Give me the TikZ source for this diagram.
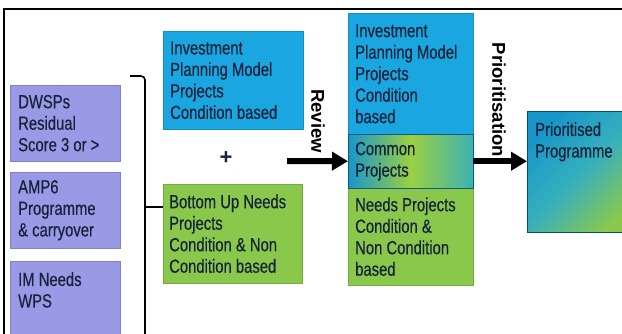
\documentclass[tikz,border=0pt]{standalone}
\usepackage{fontspec}
\setmainfont{Liberation Sans}[FakeStretch=0.78,FakeBold=0.4]
\newfontfamily\lblfont{Liberation Sans}
\usetikzlibrary{arrows.meta}
\definecolor{purp}{RGB}{153,153,230}
\definecolor{blu}{RGB}{26,167,225}
\definecolor{grn}{RGB}{138,200,76}
\definecolor{ink}{RGB}{22,34,58}
\begin{document}
\begin{tikzpicture}[x=1pt,y=-1pt,
            box/.style={fill=#1, draw=#1!85!black, anchor=north west, inner sep=0pt},
            txt/.style={align=left, inner sep=0pt, text=ink, font=\fontsize{19}{21.5}\selectfont},
            lbl/.style={rotate=-90, inner sep=0pt, font=\lblfont\bfseries\fontsize{18.5}{20}\selectfont},
            fat/.style={line width=6pt, -{Triangle[length=16pt,width=18pt]}}]
            \useasboundingbox (0,0) rectangle (622,334);
            \clip (0,0) rectangle (622,334);
            \fill[white] (0,0) rectangle (622,334);
            \draw[line width=2.5pt] (4,340)--(4,9)--(630,9);
            % left column
            \node[box=purp, minimum width=110pt, minimum height=76pt] (dwsp) at (10,85) {};
            \node[box=purp, minimum width=110pt, minimum height=76pt] (amp) at (10,172) {};
            \node[box=purp, minimum width=110pt, minimum height=90pt] (imn) at (10,261) {};
            \node[txt, anchor=west] (dwspt) at ([xshift=8pt]dwsp.west) {DWSPs\\Residual\\Score 3 or >};
            \node[txt, anchor=west] (ampt) at ([xshift=8pt]amp.west) {AMP6\\Programme\\\& carryover};
            \node[txt, anchor=north west] (imnt) at ([shift={(8pt,-11pt)}]imn.north west) {IM Needs\\WPS};
            % bracket
            \coordinate (brtop) at (130,76);
            \coordinate (brmid) at (145,207);
            \coordinate (brbot) at (145,340);
            \draw[line width=1.6pt, rounded corners=4pt] (brtop)--(brtop -| brbot)--(brbot);
            % second column
            \node[box=blu, minimum width=140pt, minimum height=98pt] (ipm) at (163,31) {};
            \node[box=grn, minimum width=139pt, minimum height=99pt] (bun) at (163,184) {};
            \node[txt, anchor=west] (ipmt) at ([xshift=7pt]ipm.west) {Investment\\Planning Model\\Projects\\Condition based};
            \node[txt, anchor=west] (bunt) at ([xshift=6pt]bun.west) {Bottom Up Needs\\Projects\\Condition \& Non\\Condition based};
            \node[text=ink, inner sep=0pt, font=\lblfont\bfseries\fontsize{22}{22}\selectfont] (plus) at (226,158) {+};
            \draw[line width=1.6pt] (brmid)--(brmid -| bun.west);
            % merged column
            \node[box=blu, minimum width=125pt, minimum height=121pt] (ipm2) at (348,13) {};
            \node[box=grn, minimum width=125pt, minimum height=97pt] (needs) at (348,188) {};
            \node[anchor=north west, inner sep=0pt, draw=blu!55!black, left color=blu!90!black, right color=blu!70!grn,
                middle color=grn!85!yellow, minimum width=125pt, minimum height=54pt] (common) at (348,134) {};
            \node[txt, anchor=west] (ipm2t) at ([xshift=7pt]ipm2.west) {Investment\\Planning Model\\Projects\\Condition\\based};
            \node[txt, anchor=west] (commont) at ([xshift=7pt]common.west) {Common\\Projects};
            \node[txt, anchor=west] (needst) at ([xshift=7pt]needs.west) {Needs Projects\\Condition \&\\Non Condition\\based};
            % result
            \node[anchor=north west, inner sep=0pt, draw=blu!45!black, top color=blu!90!black, bottom color=grn,
                middle color=blu!75!grn, shading angle=45, minimum width=110pt, minimum height=121pt] (prio) at (527,111) {};
            \node[txt, anchor=north west] (priot) at ([shift={(8pt,-11pt)}]prio.north west) {Prioritised\\Programme};
            % arrows
            \coordinate (revin) at (287,161);
            \draw[fat] (revin)--(common.west);
            \draw[fat] (common.east)--(common.east -| prio.west);
            \node[lbl] (rev) at (318,121) {Review};
            \node[lbl] (pri) at (499,100) {Prioritisation};
        \end{tikzpicture}
\end{document}
